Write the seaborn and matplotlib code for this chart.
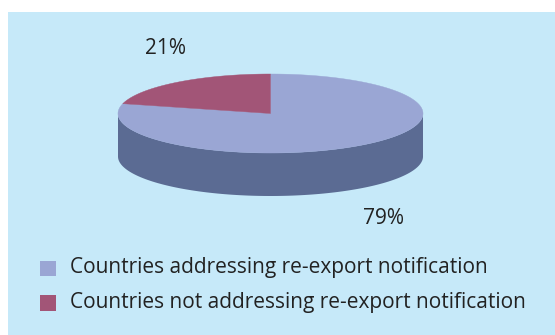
import numpy as np
import matplotlib
matplotlib.use("Agg")
import matplotlib.pyplot as plt
from matplotlib.patches import Polygon, Rectangle
import seaborn as sns

# Share of countries by whether they address re-export notification
categories = ["Countries addressing re-export notification",
              "Countries not addressing re-export notification"]
shares = [79, 21]
labels = ["79%", "21%"]

sns.set_theme(style="white")
plt.rcParams["font.family"] = ["Open Sans", "DejaVu Sans"]

top_colors = ["#9AA6D4", "#A25577"]
side_colors = ["#5B6B93", "#6E3550"]
panel_color = "#C6E9F9"

fig = plt.figure(figsize=(5.55, 3.35), dpi=100)
ax = fig.add_axes([0, 0, 1, 1])
ax.set_xlim(0, 555)
ax.set_ylim(335, 0)
ax.axis("off")

ax.add_patch(Rectangle((8, 12), 547, 323, facecolor=panel_color, edgecolor="none", zorder=0))

# Pie geometry (screen coordinates, y grows downward)
cx, cy, rx, ry, depth = 270.5, 113.5, 152.5, 39.5, 43


def ellipse_pt(t_deg):
    t = np.radians(t_deg)
    return cx + rx * np.cos(t), cy - ry * np.sin(t)


# Wedges run clockwise from 12 o'clock: the 79% slice first, then 21%
fractions = np.array(shares, dtype=float) / sum(shares)
starts = 90 - np.concatenate([[0], np.cumsum(fractions)[:-1]]) * 360
ends = starts - fractions * 360

# Side walls: only the front half (angles -180..0) is visible
for s, e, col in zip(starts, ends, side_colors):
    lo, hi = min(s, e), max(s, e)
    segs = []
    for shift in (0, -360, 360):
        a, b = lo + shift, hi + shift
        a2, b2 = max(a, -180), min(b, 0)
        if a2 < b2:
            segs.append((a2, b2))
    for a, b in segs:
        ts = np.linspace(a, b, 120)
        xs, ys = zip(*[ellipse_pt(t) for t in ts])
        xs = np.array(xs)
        ys = np.array(ys)
        poly = np.concatenate([np.column_stack([xs, ys]),
                               np.column_stack([xs[::-1], ys[::-1] + depth])])
        ax.add_patch(Polygon(poly, closed=True, facecolor=col, edgecolor="none", zorder=1))

# Top faces
for s, e, col in zip(starts, ends, top_colors):
    ts = np.linspace(s, e, 200)
    pts = [ellipse_pt(t) for t in ts]
    poly = np.array([(cx, cy)] + pts)
    ax.add_patch(Polygon(poly, closed=True, facecolor=col, edgecolor=col, linewidth=0.3, zorder=2))

# Percentage labels
ax.text(383, 218, labels[0], ha="center", va="center", fontsize=15, color="#222222")
ax.text(166, 49, labels[1], ha="center", va="center", fontsize=15, color="#222222")

# Legend
for i, (cat, col) in enumerate(zip(categories, top_colors)):
    y = 268 + i * 34.5
    ax.add_patch(Rectangle((40, y - 7.5), 16, 15.5, facecolor=col, edgecolor="none"))
    ax.text(70, y, cat, ha="left", va="center", fontsize=15, color="#222222")

fig.savefig("out.png", dpi=100, facecolor="white")
